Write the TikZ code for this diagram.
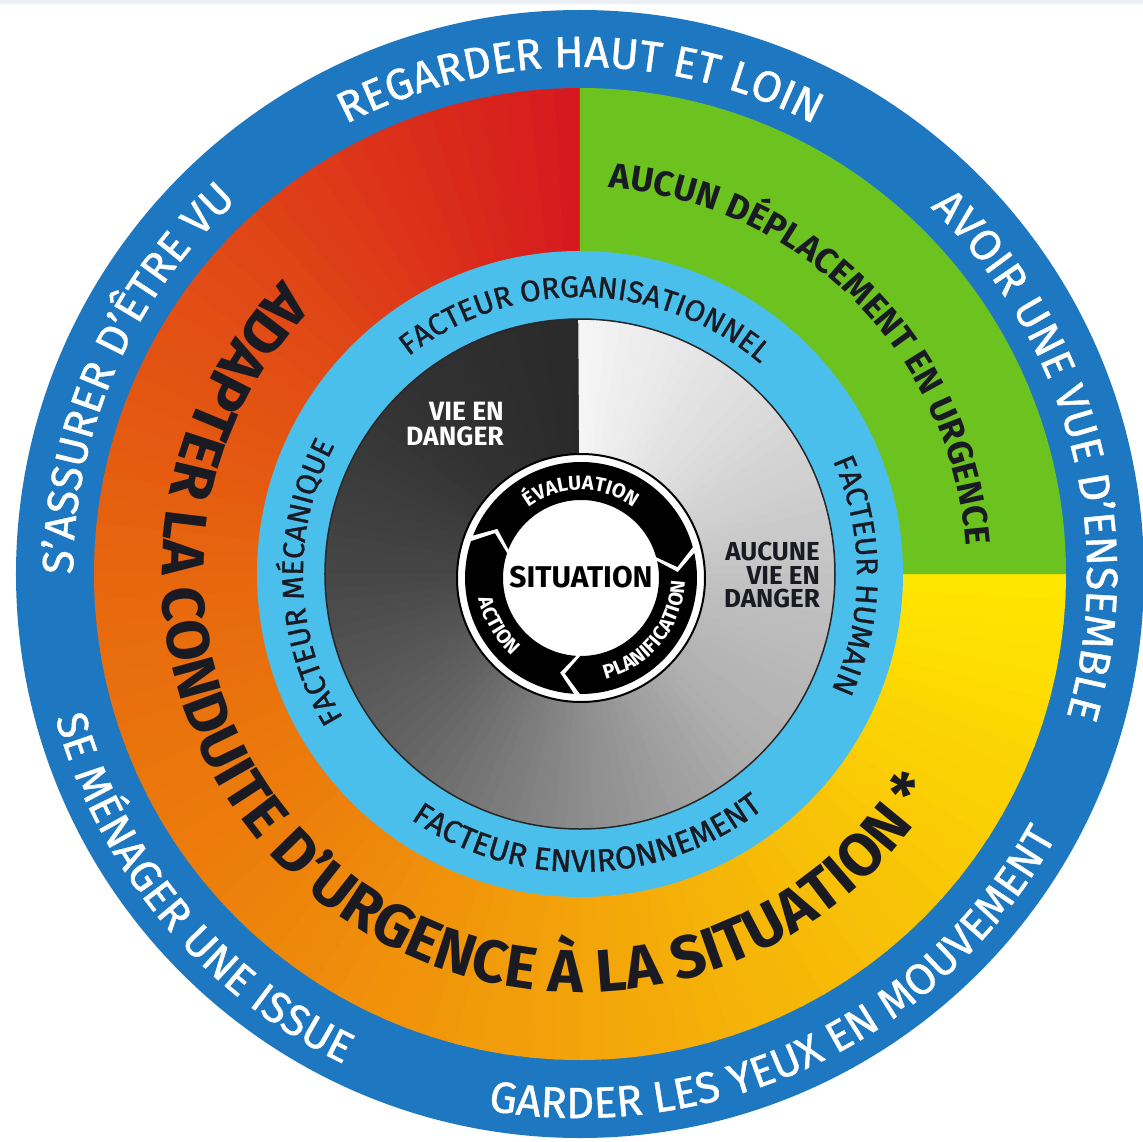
\documentclass[tikz,border=0pt]{standalone}
\usepackage{fontspec}
\setmainfont{Fira Sans}
\newfontfamily\medfont[FakeBold=1]{Fira Sans}
\usetikzlibrary{decorations.text}

\definecolor{ringblue}{RGB}{30,120,193}
\definecolor{lightring}{RGB}{74,191,236}
\definecolor{quadgreen}{RGB}{108,195,32}
\definecolor{cRed}{RGB}{214,24,30}
\definecolor{cRedOr}{RGB}{224,70,22}
\definecolor{cOrange}{RGB}{231,102,14}
\definecolor{cOrLight}{RGB}{237,130,11}
\definecolor{cAmber}{RGB}{243,164,10}
\definecolor{cGold}{RGB}{248,196,6}
\definecolor{cYellow}{RGB}{255,231,0}
\definecolor{txtdark}{RGB}{26,26,34}
\definecolor{topstrip}{RGB}{236,239,243}

% font sizes (1 unit = 1pt)
\newcommand\fOuter{\medfont\fontsize{43.5}{43.5}\selectfont}
\newcommand\fBig{\fontsize{60}{60}\selectfont\bfseries}
\newcommand\fGreen{\fontsize{35}{35}\selectfont\bfseries}
\newcommand\fFactor{\medfont\fontsize{30}{30}\selectfont}
\newcommand\fFactorWide{\medfont\fontsize{31.5}{31.5}\selectfont}
\newcommand\fCycle{\fontsize{20}{20}\selectfont\bfseries}

% text set clockwise along an arc: radius, centre angle, half span, font, colour, text
\newcommand\cwlabel[6]{%
  \path[decorate, decoration={text along path, text align=center, text color=#5, text={|#4|#6}}]
    (#2+#3:#1) arc[start angle=#2+#3, end angle=#2-#3, radius=#1];}
% text set counter-clockwise along an arc
\newcommand\ccwlabel[6]{%
  \path[decorate, decoration={text along path, text align=center, text color=#5, text={|#4|#6}}]
    (#2-#3:#1) arc[start angle=#2-#3, end angle=#2+#3, radius=#1];}

% one black band of the inner cycle, from angle #1 clockwise to #2 (tail notched, head pointed)
\newcommand\cycleband[2]{%
  \fill[black] (#1:116) arc[start angle=#1, end angle=#2, radius=116]
    -- (#2-9:97) -- (#2:78) arc[start angle=#2, end angle=#1, radius=78]
    -- (#1-9:97) -- cycle;}

\begin{document}
\begin{tikzpicture}[x=1pt,y=1pt]
\useasboundingbox (-580,-567) rectangle (563,574);
\fill[white] (-580,-567) rectangle (563,574);
\fill[topstrip] (-580,570) rectangle (563,574);

% outer blue ring
\fill[ringblue] (0,0) circle (564);

% warm colour sweep from red (top) round to yellow (right)
\foreach \a/\ca/\cb in {90/cRed/cRedOr, 135/cRedOr/cOrange, 180/cOrange/cOrLight,
                        225/cOrLight/cAmber, 270/cAmber/cGold, 315/cGold/cYellow}{
  \foreach \i in {0,...,14}{
    \pgfmathsetmacro\t{\a+3*\i}
    \pgfmathsetmacro\p{100-100*(\i+0.5)/15}
    \fill[\ca!\p!\cb] (0,0) -- (\t:486) arc[start angle=\t, end angle=\t+3.4, radius=486] -- cycle;
  }
}
% green quadrant
\fill[quadgreen] (0,0) -- (0:486) arc[start angle=0, end angle=90, radius=486] -- cycle;

% light blue ring
\fill[lightring] (0,0) circle (323);

% grey disc: dark to light sweep, counter-clockwise from the top
\foreach \a/\ga/\gb in {90/42/50, 135/50/70, 180/70/100, 225/100/140,
                        270/140/175, 315/175/195, 360/195/220, 405/220/245}{
  \foreach \i in {0,...,14}{
    \pgfmathsetmacro\t{\a+3*\i}
    \pgfmathsetmacro\w{(\ga+(\gb-\ga)*(\i+0.5)/15)/2.55}
    \fill[white!\w!black] (0,0) -- (\t:255) arc[start angle=\t, end angle=\t+3.4, radius=255] -- cycle;
  }
}
\fill[white!96!black] (0,0) -- (87:255) arc[start angle=87, end angle=90, radius=255] -- cycle;
\draw[black!85, line width=1.5] (0,0) circle (255);

% outer ring labels
\cwlabel{507}{90}{60}{\fOuter}{white}{REGARDER HAUT ET LOIN}
\cwlabel{507}{15}{60}{\fOuter}{white}{AVOIR UNE VUE D’ENSEMBLE}
\cwlabel{507}{156.3}{50}{\fOuter}{white}{S’ASSURER D’ÊTRE VU}
\ccwlabel{544}{-64.3}{60}{\fOuter}{white}{GARDER LES YEUX EN MOUVEMENT}
\ccwlabel{544}{-140.2}{50}{\fOuter}{white}{SE MÉNAGER UNE ISSUE}

% colour ring labels
\ccwlabel{418}{232}{112}{\fBig}{txtdark}{ADAPTER LA CONDUITE D’URGENCE À LA SITUATION *}
\cwlabel{387}{45}{50}{\fGreen}{txtdark}{AUCUN DÉPLACEMENT EN URGENCE}

% light blue ring labels
\cwlabel{277}{88.8}{55}{\fFactor}{txtdark}{FACTEUR ORGANISATIONNEL}
\cwlabel{277}{-0.3}{40}{\fFactor}{txtdark}{FACTEUR HUMAIN}
\cwlabel{277}{181.8}{40}{\fFactor}{txtdark}{FACTEUR MÉCANIQUE}
\ccwlabel{298}{-88.3}{50}{\fFactorWide}{txtdark}{FACTEUR ENVIRONNEMENT}

% labels of the grey disc
\node (life) [anchor=north east, align=right, inner sep=0, text=white,
      font=\fontsize{26.5}{25}\selectfont\bfseries] at (-76,172) {VIE EN\\DANGER};
\node (nolife) [anchor=north east, align=right, inner sep=0, text=txtdark,
      font=\fontsize{26}{23.5}\selectfont\bfseries] at (240,32) {AUCUNE\\VIE EN\\DANGER};

% inner cycle
\begin{scope}[shift={(1,-4)}]
  \fill[white] (0,0) circle (124);
  \draw[black, line width=2] (0,0) circle (124);
  \cycleband{158.5}{15.5}
  \cycleband{12.5}{-90.5}
  \cycleband{-93.5}{-198.5}
  \cwlabel{88}{90}{50}{\fCycle}{white}{ÉVALUATION}
  \ccwlabel{104}{-39}{55}{\fCycle}{white}{PLANIFICATION}
  \ccwlabel{104}{210}{35}{\fCycle}{white}{ACTION}
  \node (centre) [font=\fontsize{30}{30}\selectfont\bfseries, inner sep=0] at (0,1) {SITUATION};
\end{scope}
\end{tikzpicture}
\end{document}
